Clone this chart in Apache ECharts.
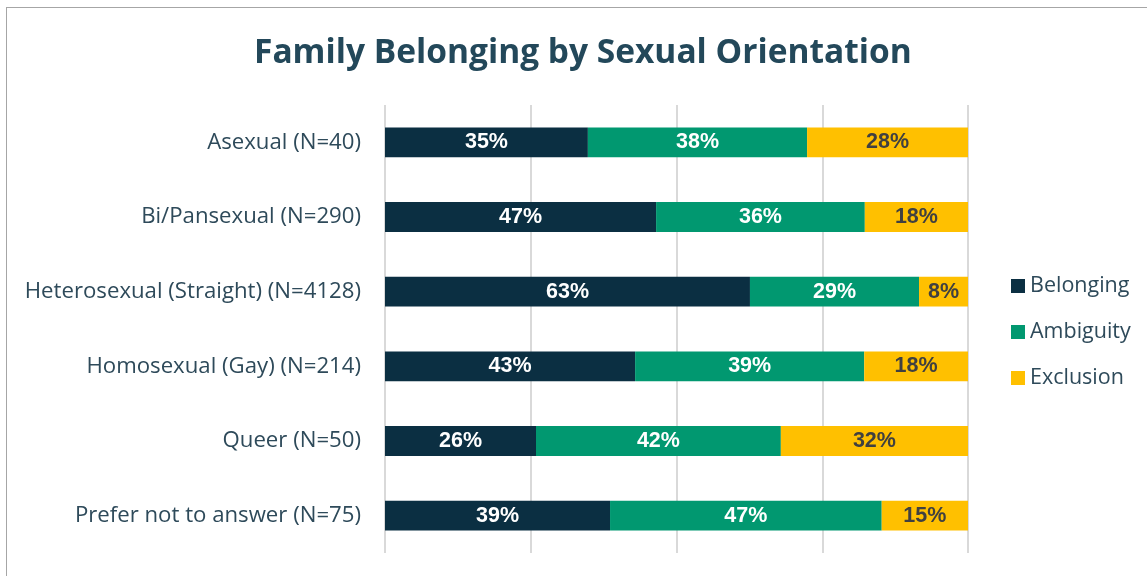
<!DOCTYPE html>
<html><head><meta charset="utf-8">
<script src="https://cdn.jsdelivr.net/npm/echarts@6/dist/echarts.min.js"></script>
<style>
html,body{margin:0;padding:0;background:#fff;}
#frame{position:absolute;left:6px;top:7px;width:1150px;height:580px;border:1px solid #a6a6a6;box-sizing:border-box;}
#chart{position:absolute;left:0;top:0;width:1147px;height:576px;}
</style></head>
<body>
<div id="frame"></div>
<div id="chart"></div>
<script>
const categories = ["Asexual (N=40)","Bi/Pansexual (N=290)","Heterosexual (Straight) (N=4128)","Homosexual (Gay) (N=214)","Queer (N=50)","Prefer not to answer (N=75)"];
const belonging = [34.8, 46.5, 62.6, 42.9, 25.9, 38.6];
const ambiguity = [37.6, 35.8, 29.0, 39.3, 42.0, 46.6];
const exclusion = [27.6, 17.7, 8.4, 17.8, 32.1, 14.8];
const xTicks = [0, 25, 50, 75, 100];

const chart = echarts.init(document.getElementById('chart'), null, {renderer:'canvas'});
const fontFam = '"Open Sans", "Noto Sans", sans-serif';
function lab(color){
  return {show:true, position:'inside', color:color, fontSize:21.5, fontWeight:'bold',
    fontFamily:'"Liberation Sans", Arial, sans-serif', formatter:p=>Math.round(p.value)+'%'};
}
function ser(name, data, color, lc){
  return {name, type:'bar', stack:'t', data, barCategoryGap:'60%',
    itemStyle:{color}, label:lab(lc), emphasis:{disabled:true}};
}
chart.setOption({
  animation:false,
  title:{text:'Family Belonging by Sexual Orientation', left:249, top:31,
    textStyle:{fontSize:33.5, fontWeight:'bold', color:'#23485A', fontFamily:fontFam}},
  legend:{orient:'vertical', left:1006, top:270, itemGap:24, itemWidth:14, itemHeight:14,
    icon:'rect', textStyle:{fontSize:21.5, color:'#2E4A5A', fontFamily:fontFam},
    data:['Belonging','Ambiguity','Exclusion']},
  grid:{left:385, right:179, top:105, bottom:23, containLabel:false},
  xAxis:{type:'value', min:xTicks[0], max:xTicks[xTicks.length-1], interval:25,
    axisLabel:{show:false}, axisLine:{show:false}, axisTick:{show:false},
    splitLine:{show:true, lineStyle:{color:'#d9d9d9', width:2}}},
  yAxis:{type:'category', data:categories, inverse:true,
    axisLine:{show:false}, axisTick:{show:false},
    axisLabel:{fontSize:22.2, color:'#2E4A5A', fontFamily:fontFam, margin:24}},
  series:[
    ser('Belonging', belonging, '#0B2F42', '#ffffff'),
    ser('Ambiguity', ambiguity, '#019870', '#ffffff'),
    ser('Exclusion', exclusion, '#FFC000', '#404040')
  ]
});
</script>
</body></html>
